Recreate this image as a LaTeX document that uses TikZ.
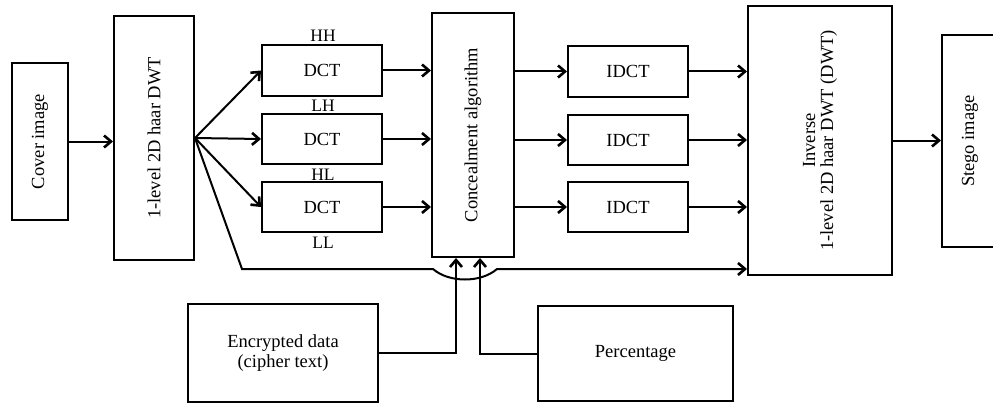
\documentclass[tikz,border=0pt]{standalone}
\usepackage{fontspec}
\setmainfont{Liberation Serif}
\usetikzlibrary{arrows.meta}
\begin{document}
\begin{tikzpicture}[x=1pt,y=-1pt,
  box/.style={draw, line width=2pt, inner sep=0pt, font=\fontsize{18.5}{20}\selectfont},
  lbl/.style={inner sep=1pt, font=\fontsize{17.5}{20}\selectfont},
  conn/.style={line width=2pt},
  arr/.style={conn, -{Straight Barb[length=7pt,width=12pt,line width=2.6pt]}}]
\clip (0,0) rectangle (993,404);
% boxes
\node[box, minimum width=56pt, minimum height=157pt] (cover) at (40,141.5) {\rotatebox{90}{Cover image}};
\node[box, minimum width=80pt, minimum height=244pt] (dwt) at (154,138) {\rotatebox{90}{1-level 2D haar DWT}};
\node[box, minimum width=120pt, minimum height=51pt] (dct1) at (322,70.5) {DCT};
\node[box, minimum width=120pt, minimum height=50pt] (dct2) at (322,139) {DCT};
\node[box, minimum width=120pt, minimum height=50pt] (dct3) at (322,207) {DCT};
\node[lbl] (hh) at (323,36) {HH};
\node[lbl] (lh) at (323,106) {LH};
\node[lbl] (hl) at (323,175) {HL};
\node[lbl] (ll) at (323,243) {LL};
\node[box, minimum width=82pt, minimum height=244pt] (conc) at (473,135) {\rotatebox{90}{Concealment algorithm}};
\node[box, minimum width=120pt, minimum height=51pt] (idct1) at (628,71.5) {IDCT};
\node[box, minimum width=120pt, minimum height=50pt] (idct2) at (628,140) {IDCT};
\node[box, minimum width=120pt, minimum height=50pt] (idct3) at (628,207) {IDCT};
\node[box, minimum width=144pt, minimum height=269pt] (inv) at (820,140.5)
  {\rotatebox{90}{\begin{tabular}{@{}c@{}}Inverse\\[-2pt]1-level 2D haar DWT (DWT)\end{tabular}}};
\node[box, minimum width=56pt, minimum height=212pt] (stego) at (970,141) {\rotatebox{90}{Stego image}};
\node[box, minimum width=190pt, minimum height=98pt, align=center] (enc) at (283,353) {Encrypted data\\(cipher text)};
\node[box, minimum width=195pt, minimum height=95pt] (perc) at (635.5,353.5) {Percentage};
% connectors
\draw[arr] (cover.east) -- (cover.east -| dwt.west);
\draw[arr] (dwt.east) -- (dct1.west);
\draw[arr] (dwt.east) -- (dct2.west);
\draw[arr] (dwt.east) -- (dct3.west);
\coordinate (llc) at (242,269);
\coordinate (bl) at (433,269);
\coordinate (br) at (497,269);
\draw[arr] (dwt.east) -- (llc) -- (bl) .. controls (449,283) and (481,283) .. (br) -- (br -| inv.west);
\draw[arr] (dct1.east) -- (dct1.east -| conc.west);
\draw[arr] (dct2.east) -- (dct2.east -| conc.west);
\draw[arr] (dct3.east) -- (dct3.east -| conc.west);
\draw[arr] (idct1.west -| conc.east) -- (idct1.west);
\draw[arr] (idct2.west -| conc.east) -- (idct2.west);
\draw[arr] (idct3.west -| conc.east) -- (idct3.west);
\draw[arr] (idct1.east) -- (idct1.east -| inv.west);
\draw[arr] (idct2.east) -- (idct2.east -| inv.west);
\draw[arr] (idct3.east) -- (idct3.east -| inv.west);
\draw[arr] (inv.east) -- (inv.east -| stego.west);
\draw[arr] (enc.east) -| ([xshift=-17pt]conc.south);
\draw[arr] (perc.west) -| ([xshift=7pt]conc.south);
\end{tikzpicture}
\end{document}
